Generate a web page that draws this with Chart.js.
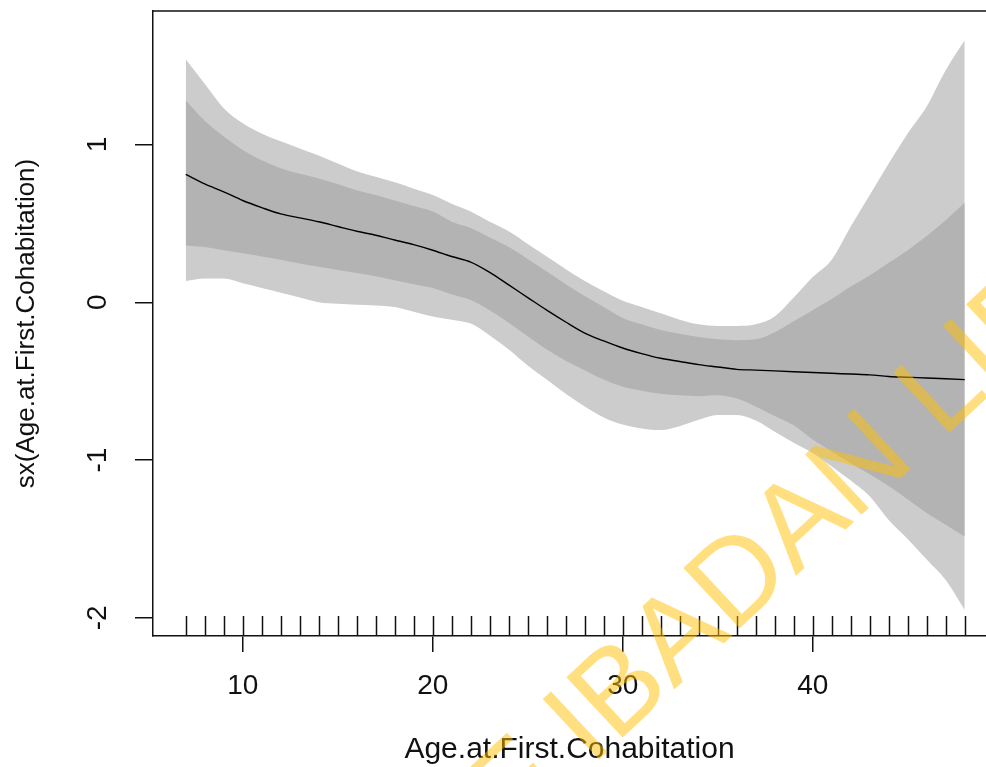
<!DOCTYPE html>
<html>
<head>
<meta charset="utf-8">
<script src="https://cdn.jsdelivr.net/npm/chart.js@4.4.1/dist/chart.umd.min.js"></script>
<style>
  html, body { margin: 0; padding: 0; background: #fff; overflow: hidden; }
  #wrap { width: 986px; height: 767px; }
</style>
</head>
<body>
<div id="wrap"><canvas id="gamChart" width="986" height="767"></canvas></div>
<script>
// smooth term of Age.at.First.Cohabitation
const ages = [7, 8, 9, 10, 11, 12, 13, 14, 15, 16, 17, 18, 19, 20, 21, 22, 23, 24, 25, 26, 27,
              28, 29, 30, 31, 32, 33, 34, 35, 36, 37, 38, 39, 40, 41, 42, 43, 44, 45, 46, 47, 48];

const fit = [0.81, 0.75, 0.70, 0.645, 0.60, 0.56, 0.535, 0.51, 0.48, 0.45, 0.425, 0.395, 0.365, 0.33,
             0.29, 0.255, 0.19, 0.11, 0.03, -0.05, -0.125, -0.195, -0.245, -0.29, -0.325, -0.355,
             -0.375, -0.395, -0.41, -0.425, -0.43, -0.435, -0.44, -0.445, -0.45, -0.455, -0.46,
             -0.47, -0.475, -0.48, -0.485, -0.49];

const innerUpper = [1.28, 1.15, 1.05, 0.965, 0.90, 0.85, 0.815, 0.785, 0.75, 0.71, 0.68, 0.645, 0.61,
                    0.575, 0.51, 0.47, 0.41, 0.35, 0.275, 0.195, 0.115, 0.04, -0.03, -0.10, -0.14,
                    -0.175, -0.20, -0.22, -0.235, -0.24, -0.235, -0.19, -0.12, -0.05, 0.02, 0.10,
                    0.17, 0.25, 0.33, 0.42, 0.52, 0.63];

const innerLower = [0.36, 0.35, 0.33, 0.31, 0.29, 0.27, 0.245, 0.225, 0.205, 0.185, 0.165, 0.14, 0.115,
                    0.09, 0.05, 0.015, -0.05, -0.13, -0.215, -0.30, -0.37, -0.43, -0.49, -0.535, -0.56,
                    -0.58, -0.59, -0.595, -0.59, -0.61, -0.66, -0.72, -0.78, -0.87, -0.945, -1.02,
                    -1.09, -1.165, -1.25, -1.335, -1.41, -1.485];

const outerUpper = [1.54, 1.385, 1.23, 1.135, 1.07, 1.02, 0.975, 0.93, 0.88, 0.83, 0.795, 0.76, 0.72,
                    0.68, 0.625, 0.575, 0.51, 0.45, 0.37, 0.29, 0.21, 0.135, 0.07, 0.01, -0.03, -0.07,
                    -0.11, -0.14, -0.15, -0.15, -0.14, -0.09, 0.03, 0.16, 0.27, 0.48, 0.68, 0.88,
                    1.07, 1.24, 1.47, 1.66];

const outerLower = [0.135, 0.15, 0.15, 0.12, 0.09, 0.06, 0.03, 0.0, -0.01, -0.015, -0.02, -0.03, -0.06,
                    -0.09, -0.11, -0.135, -0.21, -0.30, -0.40, -0.49, -0.58, -0.66, -0.73, -0.775,
                    -0.80, -0.81, -0.785, -0.745, -0.715, -0.715, -0.75, -0.82, -0.89, -0.955, -1.04,
                    -1.13, -1.23, -1.38, -1.50, -1.63, -1.76, -1.95];

// rug of observed ages along the bottom axis
const rugAges = [7, 8, 9, 10, 11, 12, 13, 14, 15, 16, 17, 18, 19, 20, 21, 22, 23, 24, 25, 26, 27,
                 28, 29, 30, 31, 32, 33, 34, 35, 36, 37, 38, 39, 40, 41, 42, 43, 44, 45, 46, 47, 48];

const xTicks = [10, 20, 30, 40];
const yTicks = [-2, -1, 0, 1];

const xTitle = 'Age.at.First.Cohabitation';
const yTitle = 'sx(Age.at.First.Cohabitation)';
const watermark = 'UNIVERSITY OF IBADAN LIBRARY';

Chart.defaults.font.family = "'Liberation Sans', Arial, sans-serif";
Chart.defaults.color = '#111';

function pts(vals) {
    return ages.map((a, i) => ({ x: a, y: vals[i] }));
}

const rugPlugin = {
    id: 'rug',
    afterDatasetsDraw(chart) {
        const ctx = chart.ctx;
        const xs = chart.scales.x;
        const bottom = chart.chartArea.bottom;
        ctx.save();
        ctx.strokeStyle = '#111';
        ctx.lineWidth = 1.5;
        rugAges.forEach(a => {
            const px = Math.round(xs.getPixelForValue(a)) + 0.5;
            ctx.beginPath();
            ctx.moveTo(px, bottom);
            ctx.lineTo(px, bottom - 20);
            ctx.stroke();
        });
        ctx.restore();
    }
};

const framePlugin = {
    id: 'frame',
    afterDraw(chart) {
        const ctx = chart.ctx;
        const area = chart.chartArea;
        ctx.save();
        ctx.strokeStyle = '#111';
        ctx.lineWidth = 1.5;
        ctx.beginPath();
        ctx.moveTo(area.left, area.top);
        ctx.lineTo(area.right, area.top);
        ctx.stroke();

        // library watermark across the lower right
        ctx.font = "120px 'Liberation Sans', Arial, sans-serif";
        ctx.fillStyle = 'rgba(255, 192, 0, 0.5)';
        ctx.textBaseline = 'alphabetic';
        ctx.textAlign = 'left';
        ctx.translate(591, 767);
        ctx.rotate(-43 * Math.PI / 180);
        const pre = ctx.measureText('UNIVERSITY OF ').width;
        ctx.fillText(watermark, -pre, 0);
        ctx.restore();
    }
};

const ctx = document.getElementById('gamChart').getContext('2d');
const myChart = new Chart(ctx, {
    type: 'line',
    data: {
        datasets: [
            {
                label: 'fit',
                data: pts(fit),
                borderColor: '#000',
                borderWidth: 1.4,
                pointRadius: 0,
                fill: false,
                cubicInterpolationMode: 'monotone'
            },
            {
                label: 'inner upper',
                data: pts(innerUpper),
                borderWidth: 0,
                borderColor: 'rgba(0,0,0,0)',
                backgroundColor: '#b3b3b3',
                pointRadius: 0,
                fill: '+1',
                cubicInterpolationMode: 'monotone'
            },
            {
                label: 'inner lower',
                data: pts(innerLower),
                borderWidth: 0,
                borderColor: 'rgba(0,0,0,0)',
                pointRadius: 0,
                fill: false,
                cubicInterpolationMode: 'monotone'
            },
            {
                label: 'outer upper',
                data: pts(outerUpper),
                borderWidth: 0,
                borderColor: 'rgba(0,0,0,0)',
                backgroundColor: '#cccccc',
                pointRadius: 0,
                fill: '+1',
                cubicInterpolationMode: 'monotone'
            },
            {
                label: 'outer lower',
                data: pts(outerLower),
                borderWidth: 0,
                borderColor: 'rgba(0,0,0,0)',
                pointRadius: 0,
                fill: false,
                cubicInterpolationMode: 'monotone'
            }
        ]
    },
    options: {
        responsive: false,
        animation: false,
        layout: { padding: { top: 11, right: 0, left: 0, bottom: 0 } },
        plugins: {
            legend: { display: false },
            tooltip: { enabled: false }
        },
        scales: {
            x: {
                type: 'linear',
                min: 5.279,
                max: 49.12,
                afterBuildTicks: axis => { axis.ticks = xTicks.map(v => ({ value: v })); },
                afterFit: axis => {
                    axis.height = 131;
                    axis.paddingLeft = 0;
                    axis.paddingRight = 0;
                },
                grid: { drawOnChartArea: false, drawTicks: true, tickLength: 16, color: '#111', lineWidth: 1.5 },
                border: { display: true, color: '#111', width: 1.5 },
                ticks: {
                    autoSkip: false,
                    maxRotation: 0,
                    padding: 17,
                    color: '#111',
                    font: { size: 28 }
                },
                title: {
                    display: true,
                    text: xTitle,
                    color: '#111',
                    font: { size: 30, lineHeight: 1 },
                    padding: { top: 0, bottom: 2 }
                }
            },
            y: {
                type: 'linear',
                min: -2.115,
                max: 1.846,
                afterBuildTicks: axis => { axis.ticks = yTicks.map(v => ({ value: v })); },
                afterFit: axis => {
                    axis.width = 153;
                    axis.paddingTop = 0;
                    axis.paddingBottom = 0;
                },
                grid: { drawOnChartArea: false, drawTicks: true, tickLength: 18, color: '#111', lineWidth: 1.5 },
                border: { display: true, color: '#111', width: 1.5 },
                ticks: {
                    minRotation: 90,
                    maxRotation: 90,
                    crossAlign: 'center',
                    padding: 24,
                    color: '#111',
                    font: { size: 28 },
                    callback: v => String(v)
                },
                title: {
                    display: true,
                    text: yTitle,
                    color: '#111',
                    font: { size: 26, lineHeight: 1 },
                    padding: { top: 14, bottom: 0 }
                }
            }
        }
    },
    plugins: [rugPlugin, framePlugin]
});
</script>
</body>
</html>
